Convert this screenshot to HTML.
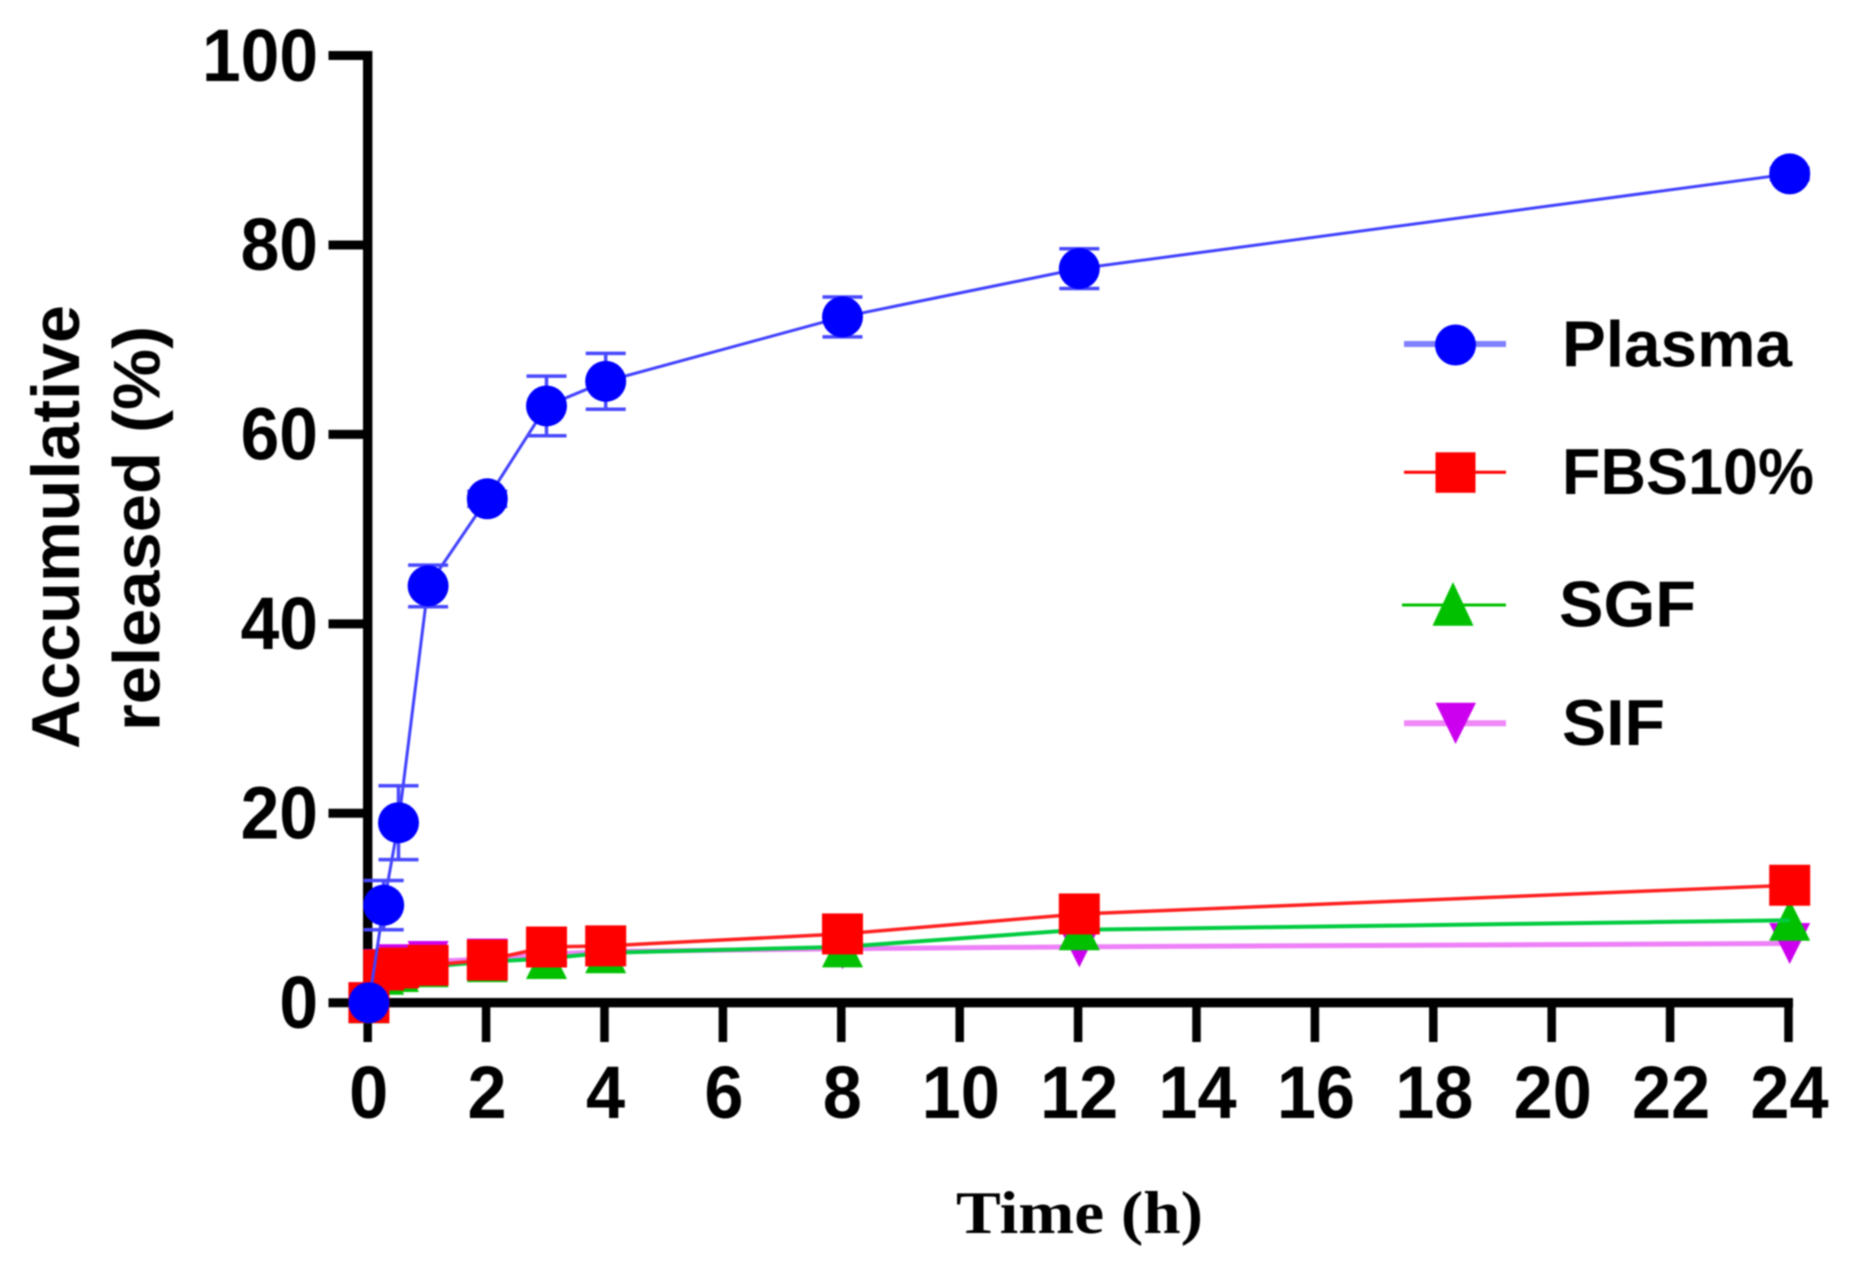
<!DOCTYPE html>
<html lang="en">
<head>
<meta charset="utf-8">
<title>Accumulative release over time</title>
<style>
html,body{margin:0;padding:0;background:#fff;}
#chart{display:block;width:1856px;height:1268px;filter:blur(0.8px);}
text{font-family:"Liberation Sans",Arial,sans-serif;font-weight:700;fill:#000;}
</style>
</head>
<body>
<svg id="chart" xmlns="http://www.w3.org/2000/svg" width="1856" height="1268" viewBox="0 0 1856 1268">
  <rect x="0" y="0" width="1856" height="1268" fill="#ffffff"/>
  <g id="axes"></g>
  <g id="plot"></g>

  <text transform="translate(79,749) rotate(-90)" font-size="68" textLength="444" lengthAdjust="spacingAndGlyphs">Accumulative</text>
  <text transform="translate(159.5,731) rotate(-90)" font-size="66" textLength="405" lengthAdjust="spacingAndGlyphs">released (%)</text>
  <text x="956" y="1233" font-size="60" textLength="247" lengthAdjust="spacingAndGlyphs" style="font-family:'Liberation Serif',serif">Time (h)</text>

  <g>
    <g>
      <line x1="1404" x2="1506" y1="344" y2="344" stroke="#8080ff" stroke-width="6"/>
      <circle cx="1455.5" cy="345" r="20.5" fill="#0000ff"/>
      <text x="1562" y="366.7" font-size="65" textLength="230" lengthAdjust="spacingAndGlyphs">Plasma</text>
    </g>
    <g>
      <line x1="1404" x2="1506" y1="472.3" y2="472.3" stroke="#ff0000" stroke-width="3"/>
      <rect x="1435.5" y="452.3" width="40" height="40.5" fill="#ff0000"/>
      <text x="1562" y="494" font-size="65" textLength="252" lengthAdjust="spacingAndGlyphs">FBS10%</text>
    </g>
    <g>
      <line x1="1402" x2="1506" y1="605" y2="605" stroke="#00c000" stroke-width="3"/>
      <polygon points="1453,582 1473.5,625.7 1432.5,625.7" fill="#00c000"/>
      <text x="1559" y="626.7" font-size="65" textLength="137" lengthAdjust="spacingAndGlyphs">SGF</text>
    </g>
    <g>
      <line x1="1404" x2="1506" y1="723.3" y2="723.3" stroke="#f088f8" stroke-width="6"/>
      <polygon points="1435.5,702.7 1476,702.7 1455.5,744" fill="#cc00ee"/>
      <text x="1562" y="745" font-size="65" textLength="103" lengthAdjust="spacingAndGlyphs">SIF</text>
    </g>
  </g>
</svg>
<script>
// Chart data
const times = [0, 0.25, 0.5, 1, 2, 3, 4, 8, 12, 24];
const plasmaValues = [0, 10.3, 19, 44, 53.2, 63, 65.6, 72.4, 77.5, 87.5];
const plasmaErrors = [0, 2.6, 3.9, 2.2, 0.8, 3.15, 2.95, 2.1, 2.1, 0.6];
const fbsValues = [0, 3.45, 3.66, 3.95, 4.5, 5.88, 6, 7.26, 9.37, 12.4];
const sgfValues = [0, 3, 3.3, 3.8, 4.33, 4.67, 5.27, 5.9, 7.7, 8.7];
const sifValues = [0, 3.5, 4, 4.35, 4.6, 5.1, 5.4, 5.7, 5.9, 6.25];
const xTickLabels = ["0","2","4","6","8","10","12","14","16","18","20","22","24"];
const yTickLabels = ["0","20","40","60","80","100"];

const NS = "http://www.w3.org/2000/svg";
const plot = document.getElementById("plot");
const axes = document.getElementById("axes");

function xAxisScale(t) { return 367.7 + t * 59.2; }
function xScale(t) { return 368.9 + t * 59.2; }
function yScale(v) { return 1002.7 - v * 9.472; }

function make(tag, parent, attrs) {
  const el = document.createElementNS(NS, tag);
  for (const k in attrs) el.setAttribute(k, attrs[k]);
  parent.appendChild(el);
  return el;
}

// Axes
const yAxisLine = make("line", axes, {x1: xAxisScale(0), x2: xAxisScale(0), y1: yScale(100) - 4.5, y2: yScale(0) + 4.5, stroke: "#000", "stroke-width": 9.4});


const xAxisLine = make("line", axes, {x1: xAxisScale(0), x2: xAxisScale(24) + 4.5, y1: yScale(0), y2: yScale(0), stroke: "#000", "stroke-width": 9.4});



yTickLabels.forEach(function (label) {
  const v = Number(label);
  const tick = make("line", axes, {x1: 328.5, x2: xAxisScale(0), y1: yScale(v), y2: yScale(v), stroke: "#000", "stroke-width": 9});
  
  
  const text = make("text", axes, {transform: "translate(318," + (yScale(v) + 25.3) + ") scale(0.94,1)", "font-size": 74, "text-anchor": "end"});
  text.textContent = label;
  
  
});

xTickLabels.forEach(function (label) {
  const t = Number(label);
  const tick = make("line", axes, {x1: xAxisScale(t), x2: xAxisScale(t), y1: yScale(0), y2: 1042, stroke: "#000", "stroke-width": 8.5});
  
  
  const text = make("text", axes, {transform: "translate(" + (xAxisScale(t) + 1) + ",1118) scale(0.95,1)", "font-size": 74, "text-anchor": "middle"});
  text.textContent = label;
  
  
});

// Series helpers
function pathFor(values) {
  return values.map(function (v, i) { return xScale(times[i]) + "," + yScale(v); }).join(" ");
}
function circleMark(parent, cx, cy, fill) {
  return make("circle", parent, {cx: cx, cy: cy, r: 20.5, fill: fill});
}
function squareMark(parent, cx, cy, fill) {
  return make("rect", parent, {x: cx - 20.5, y: cy - 20.5, width: 41, height: 41, fill: fill});
}
function upMark(parent, cx, cy, fill) {
  return make("polygon", parent, {points: cx + "," + (cy - 20.5) + " " + (cx + 20.5) + "," + (cy + 20.5) + " " + (cx - 20.5) + "," + (cy + 20.5), fill: fill});
}
function downMark(parent, cx, cy, fill) {
  return make("polygon", parent, {points: (cx - 20.5) + "," + (cy - 20.5) + " " + (cx + 20.5) + "," + (cy - 20.5) + " " + cx + "," + (cy + 20.5), fill: fill});
}

// SIF (drawn first, lowest layer)
const sifGroup = make("g", plot, {});


const sifLine = make("polyline", sifGroup, {points: pathFor(sifValues), fill: "none", stroke: "#ee80f8", "stroke-width": 5});


sifValues.forEach(function (v, i) {
  const m = downMark(sifGroup, xScale(times[i]), yScale(v), "#cc00ee");
  
  
});

// SGF
const sgfGroup = make("g", plot, {});


sgfValues.forEach(function (v, i) {
  const m = upMark(sgfGroup, xScale(times[i]), yScale(v), "#00c000");
  
  
});
const sgfLine = make("polyline", sgfGroup, {points: pathFor(sgfValues), fill: "none", stroke: "#00cc40", "stroke-width": 4});



// FBS 10%
const fbsGroup = make("g", plot, {});


const fbsLine = make("polyline", fbsGroup, {points: pathFor(fbsValues), fill: "none", stroke: "#ff2020", "stroke-width": 3.5});


fbsValues.forEach(function (v, i) {
  const m = squareMark(fbsGroup, xScale(times[i]), yScale(v), "#ff0000");
  
  
});

// Plasma (top layer)
const plasmaGroup = make("g", plot, {});


const plasmaLine = make("polyline", plasmaGroup, {points: pathFor(plasmaValues), fill: "none", stroke: "#4040ff", "stroke-width": 3});


plasmaValues.forEach(function (v, i) {
  const cx = xScale(times[i]);
  const hi = yScale(v + plasmaErrors[i]);
  const lo = yScale(v - plasmaErrors[i]);
  const err = make("path", plasmaGroup, {d: "M" + (cx - 20) + " " + hi + "H" + (cx + 20) + "M" + cx + " " + hi + "V" + lo + "M" + (cx - 20) + " " + lo + "H" + (cx + 20), fill: "none", stroke: "#4848ff", "stroke-width": 3.5});
  
  
});
plasmaValues.forEach(function (v, i) {
  const m = circleMark(plasmaGroup, xScale(times[i]), yScale(v), "#0000ff");
  
  
});
</script>
</body>
</html>
